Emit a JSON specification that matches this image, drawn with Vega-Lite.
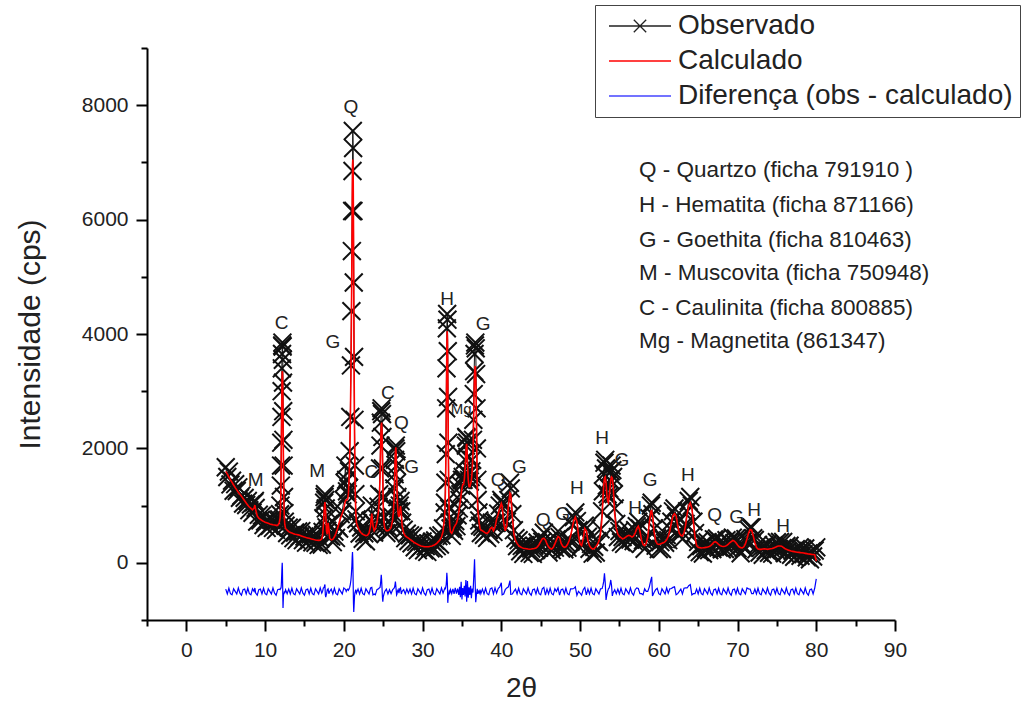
{
"$schema":"https://vega.github.io/schema/vega-lite/v6.json",
"width":748,"height":572,
"autosize":{"type":"none"},
"padding":{"left":147,"top":48,"right":129,"bottom":89},
"background":"white",
"config":{"view":{"stroke":null},
"axis":{"grid":false,"domainColor":"black","domainWidth":2,"tickColor":"black","tickWidth":2,"labelFont":"Liberation Sans","titleFont":"Liberation Sans","labelFontSize":21,"titleFontSize":28,"titleFontWeight":"normal","labelColor":"#222","titleColor":"#222","labelOverlap":false,"labelFlush":false,"format":"d"},
"legend":{"labelFont":"Liberation Sans","labelFontSize":28,"labelColor":"#222","labelLimit":0,"symbolSize":3844,"symbolStrokeWidth":1.3,"clipHeight":28,"rowPadding":7,"padding":7,"symbolOffset":6,"labelOffset":6,"strokeColor":"#444","fillColor":"white"}},
"datasets":{
"xrd":[
{"t":5.0,"o":1670,"c":1600,"d":-460},{"t":5.2,"o":1500,"c":1550,"d":-545},{"t":5.4,"o":1595,"c":1500,"d":-445},{"t":5.6,"o":1370,"c":1450,"d":-540},{"t":5.8,"o":1435,"c":1405,"d":-560},{"t":6.0,"o":1260,"c":1360,"d":-455},{"t":6.2,"o":1375,"c":1315,"d":-500},{"t":6.4,"o":1255,"c":1275,"d":-545},{"t":6.6,"o":1320,"c":1235,"d":-440},{"t":6.8,"o":1135,"c":1200,"d":-530},{"t":7.0,"o":1175,"c":1165,"d":-565},{"t":7.2,"o":1035,"c":1125,"d":-470},{"t":7.4,"o":1135,"c":1085,"d":-460},{"t":7.6,"o":1010,"c":1045,"d":-545},{"t":7.8,"o":1080,"c":1005,"d":-445},{"t":8.0,"o":920,"c":975,"d":-540},{"t":8.2,"o":1020,"c":950,"d":-560},{"t":8.4,"o":875,"c":925,"d":-455},{"t":8.6,"o":1055,"c":960,"d":-500},{"t":8.7,"o":1080,"c":1010,"d":-440},{"t":8.8,"o":960,"c":930,"d":-530},{"t":9.0,"o":720,"c":820,"d":-565},{"t":9.2,"o":840,"c":780,"d":-470},{"t":9.4,"o":740,"c":760,"d":-460},{"t":9.6,"o":825,"c":740,"d":-545},{"t":9.8,"o":660,"c":725,"d":-445},{"t":10.0,"o":720,"c":710,"d":-540},{"t":10.2,"o":610,"c":700,"d":-560},{"t":10.4,"o":740,"c":690,"d":-455},{"t":10.6,"o":645,"c":680,"d":-500},{"t":10.8,"o":747,"c":672,"d":-545},{"t":11.0,"o":610,"c":665,"d":-440},{"t":11.2,"o":730,"c":660,"d":-530},{"t":11.4,"o":575,"c":655,"d":-565},{"t":11.6,"o":750,"c":655,"d":-470},{"t":11.8,"o":760,"c":700,"d":-460},
{"t":11.9,"o":850,"c":780,"d":-470},{"t":11.95,"o":1000,"c":900,"d":-455},{"t":12.0,"o":1350,"c":1200,"d":-440},{"t":12.025,"o":1700,"c":1480,"d":-440},{"t":12.05,"o":2100,"c":1800,"d":-400},{"t":12.075,"o":2550,"c":2200,"d":-330},{"t":12.1,"o":3000,"c":2600,"d":-250},{"t":12.125,"o":3400,"c":2950,"d":-150},{"t":12.15,"o":3650,"c":3200,"d":-60},{"t":12.175,"o":3800,"c":3330,"d":0},{"t":12.2,"o":3850,"c":3350,"d":-100},{"t":12.225,"o":3780,"c":3250,"d":-350},{"t":12.25,"o":3550,"c":3000,"d":-600},{"t":12.275,"o":3150,"c":2650,"d":-790},{"t":12.3,"o":2650,"c":2200,"d":-700},{"t":12.325,"o":2150,"c":1800,"d":-600},{"t":12.35,"o":1700,"c":1450,"d":-540},{"t":12.4,"o":1150,"c":1000,"d":-540},{"t":12.45,"o":870,"c":780,"d":-500},{"t":12.5,"o":720,"c":670,"d":-530},{"t":12.6,"o":650,"c":600,"d":-470},{"t":12.8,"o":520,"c":570,"d":-540},
{"t":13.0,"o":615,"c":545,"d":-460},{"t":13.2,"o":480,"c":530,"d":-545},{"t":13.4,"o":615,"c":520,"d":-445},{"t":13.6,"o":430,"c":510,"d":-540},{"t":13.8,"o":530,"c":500,"d":-560},{"t":14.0,"o":395,"c":495,"d":-455},{"t":14.2,"o":548,"c":488,"d":-500},{"t":14.4,"o":460,"c":480,"d":-545},{"t":14.6,"o":555,"c":470,"d":-440},{"t":14.8,"o":395,"c":460,"d":-530},{"t":15.0,"o":460,"c":450,"d":-565},{"t":15.2,"o":352,"c":442,"d":-470},{"t":15.4,"o":485,"c":435,"d":-460},{"t":15.6,"o":393,"c":428,"d":-545},{"t":15.8,"o":495,"c":420,"d":-445},{"t":16.0,"o":358,"c":413,"d":-540},{"t":16.2,"o":476,"c":406,"d":-560},{"t":16.4,"o":350,"c":400,"d":-455},{"t":16.6,"o":490,"c":395,"d":-500},{"t":16.8,"o":312,"c":392,"d":-545},{"t":17.0,"o":425,"c":395,"d":-440},{"t":17.2,"o":320,"c":420,"d":-530},
{"t":17.3,"o":540,"c":480,"d":-500},{"t":17.4,"o":780,"c":650,"d":-440},{"t":17.5,"o":1050,"c":900,"d":-430},{"t":17.55,"o":1150,"c":1000,"d":-400},{"t":17.6,"o":1200,"c":1060,"d":-380},{"t":17.65,"o":1100,"c":980,"d":-560},{"t":17.7,"o":950,"c":850,"d":-600},{"t":17.8,"o":620,"c":550,"d":-545},{"t":17.9,"o":560,"c":500,"d":-470},{"t":18.0,"o":800,"c":700,"d":-455},{"t":18.1,"o":680,"c":600,"d":-540},{"t":18.2,"o":470,"c":430,"d":-500},{"t":18.4,"o":460,"c":400,"d":-460},{"t":18.6,"o":360,"c":410,"d":-545},{"t":18.8,"o":545,"c":450,"d":-445},{"t":19.0,"o":435,"c":515,"d":-540},{"t":19.2,"o":630,"c":600,"d":-560},{"t":19.4,"o":600,"c":700,"d":-455},{"t":19.6,"o":850,"c":790,"d":-500},{"t":19.8,"o":900,"c":860,"d":-545},{"t":20.0,"o":1100,"c":950,"d":-440},{"t":20.1,"o":1400,"c":1020,"d":-455},{"t":20.2,"o":1700,"c":1080,"d":-460},{"t":20.3,"o":1450,"c":1100,"d":-500},{"t":20.4,"o":1250,"c":1100,"d":-470},{"t":20.5,"o":1200,"c":1120,"d":-460},
{"t":20.58,"o":1300,"c":1200,"d":-480},{"t":20.66,"o":1600,"c":1450,"d":-460},{"t":20.74,"o":1950,"c":1800,"d":-430},{"t":20.82,"o":2550,"c":2400,"d":-380},{"t":20.9,"o":3450,"c":3300,"d":-300},{"t":20.96,"o":4400,"c":4200,"d":-200},{"t":21.02,"o":5450,"c":5300,"d":-50},{"t":21.06,"o":6150,"c":6200,"d":100},{"t":21.1,"o":6850,"c":6950,"d":190},{"t":21.14,"o":7550,"c":7050,"d":50},{"t":21.18,"o":7250,"c":6900,"d":-300},{"t":21.22,"o":6150,"c":6000,"d":-700},{"t":21.26,"o":4900,"c":4700,"d":-860},{"t":21.3,"o":3600,"c":3500,"d":-750},{"t":21.35,"o":2500,"c":2400,"d":-600},{"t":21.4,"o":1700,"c":1650,"d":-530},{"t":21.46,"o":1200,"c":1150,"d":-500},{"t":21.52,"o":900,"c":850,"d":-470},{"t":21.6,"o":760,"c":700,"d":-530},
{"t":21.8,"o":690,"c":620,"d":-460},{"t":22.0,"o":510,"c":560,"d":-545},{"t":22.2,"o":615,"c":520,"d":-445},{"t":22.4,"o":420,"c":500,"d":-540},{"t":22.6,"o":515,"c":485,"d":-560},{"t":22.8,"o":375,"c":475,"d":-455},{"t":23.0,"o":540,"c":480,"d":-500},{"t":23.2,"o":500,"c":520,"d":-545},{"t":23.4,"o":735,"c":650,"d":-440},{"t":23.55,"o":1000,"c":860,"d":-430},{"t":23.7,"o":700,"c":650,"d":-560},{"t":23.85,"o":530,"c":560,"d":-545},{"t":24.0,"o":650,"c":600,"d":-560},{"t":24.2,"o":780,"c":700,"d":-470},{"t":24.4,"o":980,"c":900,"d":-455},
{"t":24.5,"o":1200,"c":1100,"d":-440},{"t":24.6,"o":1650,"c":1500,"d":-430},{"t":24.65,"o":2050,"c":1850,"d":-380},{"t":24.7,"o":2450,"c":2200,"d":-300},{"t":24.75,"o":2650,"c":2400,"d":-210},{"t":24.8,"o":2700,"c":2450,"d":-300},{"t":24.85,"o":2600,"c":2300,"d":-450},{"t":24.9,"o":2200,"c":1900,"d":-600},{"t":24.95,"o":1650,"c":1400,"d":-680},{"t":25.0,"o":1150,"c":1000,"d":-600},{"t":25.1,"o":780,"c":700,"d":-545},{"t":25.2,"o":650,"c":600,"d":-500},{"t":25.4,"o":520,"c":560,"d":-460},{"t":25.6,"o":620,"c":560,"d":-545},{"t":25.8,"o":540,"c":580,"d":-470},{"t":26.0,"o":690,"c":620,"d":-540},{"t":26.2,"o":800,"c":750,"d":-470},{"t":26.3,"o":980,"c":900,"d":-455},
{"t":26.4,"o":1300,"c":1200,"d":-440},{"t":26.45,"o":1550,"c":1450,"d":-420},{"t":26.5,"o":1800,"c":1750,"d":-380},{"t":26.55,"o":2000,"c":1950,"d":-330},{"t":26.6,"o":2050,"c":2020,"d":-400},{"t":26.65,"o":1950,"c":1900,"d":-480},{"t":26.7,"o":1700,"c":1600,"d":-560},{"t":26.75,"o":1400,"c":1300,"d":-545},{"t":26.8,"o":1150,"c":1050,"d":-500},{"t":26.9,"o":950,"c":850,"d":-470},{"t":27.0,"o":900,"c":800,"d":-530},{"t":27.1,"o":1000,"c":900,"d":-455},{"t":27.2,"o":1080,"c":990,"d":-440},{"t":27.3,"o":900,"c":850,"d":-545},{"t":27.4,"o":700,"c":650,"d":-500},{"t":27.6,"o":580,"c":520,"d":-470},{"t":27.8,"o":430,"c":470,"d":-545},{"t":28.0,"o":510,"c":450,"d":-460},{"t":28.2,"o":380,"c":430,"d":-530},
{"t":28.4,"o":480,"c":410,"d":-460},{"t":28.6,"o":340,"c":390,"d":-545},{"t":28.8,"o":465,"c":370,"d":-445},{"t":29.0,"o":270,"c":350,"d":-540},{"t":29.2,"o":365,"c":335,"d":-560},{"t":29.4,"o":220,"c":320,"d":-455},{"t":29.6,"o":365,"c":305,"d":-500},{"t":29.8,"o":275,"c":295,"d":-545},{"t":30.0,"o":373,"c":288,"d":-440},{"t":30.2,"o":218,"c":283,"d":-530},{"t":30.4,"o":290,"c":280,"d":-565},{"t":30.6,"o":190,"c":280,"d":-470},{"t":30.8,"o":333,"c":283,"d":-460},{"t":31.0,"o":253,"c":288,"d":-545},{"t":31.2,"o":370,"c":295,"d":-445},{"t":31.4,"o":250,"c":305,"d":-540},{"t":31.6,"o":390,"c":320,"d":-560},{"t":31.8,"o":290,"c":340,"d":-455},{"t":32.0,"o":465,"c":370,"d":-500},{"t":32.2,"o":320,"c":400,"d":-545},{"t":32.4,"o":480,"c":450,"d":-440},{"t":32.6,"o":600,"c":550,"d":-530},{"t":32.8,"o":880,"c":800,"d":-455},
{"t":32.85,"o":1050,"c":950,"d":-440},{"t":32.9,"o":1400,"c":1250,"d":-450},{"t":32.95,"o":1900,"c":1700,"d":-420},{"t":33.0,"o":2700,"c":2400,"d":-380},{"t":33.04,"o":3400,"c":3100,"d":-300},{"t":33.08,"o":4100,"c":3750,"d":-175},{"t":33.12,"o":4350,"c":4050,"d":-250},{"t":33.16,"o":4250,"c":3900,"d":-400},{"t":33.2,"o":3700,"c":3300,"d":-700},{"t":33.24,"o":2900,"c":2500,"d":-620},{"t":33.28,"o":2100,"c":1800,"d":-540},{"t":33.32,"o":1450,"c":1250,"d":-540},{"t":33.38,"o":950,"c":850,"d":-500},{"t":33.45,"o":700,"c":650,"d":-530},{"t":33.55,"o":600,"c":540,"d":-470},{"t":33.7,"o":470,"c":515,"d":-540},{"t":33.85,"o":620,"c":560,"d":-455},{"t":34.0,"o":560,"c":620,"d":-545},{"t":34.15,"o":730,"c":660,"d":-440},{"t":34.3,"o":640,"c":690,"d":-540},{"t":34.45,"o":830,"c":760,"d":-450},{"t":34.6,"o":950,"c":880,"d":-560},{"t":34.7,"o":1100,"c":980,"d":-420},{"t":34.8,"o":1200,"c":1080,"d":-600},{"t":34.9,"o":1350,"c":1200,"d":-330},{"t":35.0,"o":1450,"c":1300,"d":-640},{"t":35.1,"o":1500,"c":1370,"d":-440},{"t":35.2,"o":1450,"c":1370,"d":-560},{"t":35.3,"o":1600,"c":1450,"d":-400},{"t":35.4,"o":1800,"c":1650,"d":-590},{"t":35.5,"o":2050,"c":1900,"d":-300},{"t":35.55,"o":2200,"c":2050,"d":-450},{"t":35.6,"o":2180,"c":2080,"d":-680},{"t":35.65,"o":2100,"c":1950,"d":-550},{"t":35.7,"o":1850,"c":1750,"d":-320},{"t":35.8,"o":1550,"c":1450,"d":-610},{"t":35.9,"o":1450,"c":1330,"d":-430},{"t":36.0,"o":1420,"c":1330,"d":-560},{"t":36.1,"o":1500,"c":1380,"d":-400},{"t":36.2,"o":1600,"c":1440,"d":-620},{"t":36.3,"o":1800,"c":1600,"d":-450},
{"t":36.4,"o":2150,"c":1900,"d":-520},{"t":36.45,"o":2500,"c":2200,"d":-400},{"t":36.5,"o":2950,"c":2600,"d":-250},{"t":36.55,"o":3350,"c":3000,"d":-100},{"t":36.6,"o":3650,"c":3300,"d":60},{"t":36.65,"o":3800,"c":3420,"d":-200},{"t":36.7,"o":3850,"c":3440,"d":-450},{"t":36.75,"o":3750,"c":3300,"d":-690},{"t":36.8,"o":3300,"c":2900,"d":-620},{"t":36.85,"o":2700,"c":2300,"d":-540},{"t":36.9,"o":2000,"c":1700,"d":-500},{"t":36.95,"o":1450,"c":1250,"d":-455},{"t":37.0,"o":1100,"c":950,"d":-540},{"t":37.1,"o":880,"c":800,"d":-500},{"t":37.2,"o":740,"c":680,"d":-530},{"t":37.3,"o":650,"c":600,"d":-470},{"t":37.4,"o":520,"c":570,"d":-540},
{"t":37.6,"o":630,"c":560,"d":-460},{"t":37.8,"o":490,"c":540,"d":-545},{"t":38.0,"o":615,"c":520,"d":-445},{"t":38.2,"o":435,"c":515,"d":-540},{"t":38.4,"o":570,"c":540,"d":-560},{"t":38.6,"o":500,"c":600,"d":-455},{"t":38.8,"o":700,"c":620,"d":-440},{"t":39.0,"o":540,"c":560,"d":-545},{"t":39.2,"o":705,"c":620,"d":-440},{"t":39.4,"o":700,"c":760,"d":-530},{"t":39.6,"o":860,"c":850,"d":-450},{"t":39.8,"o":1000,"c":950,"d":-420},{"t":40.0,"o":1100,"c":1040,"d":-350},{"t":40.1,"o":1050,"c":1000,"d":-560},{"t":40.3,"o":750,"c":700,"d":-545},{"t":40.5,"o":600,"c":560,"d":-470},{"t":40.7,"o":720,"c":650,"d":-440},{"t":40.9,"o":1100,"c":1000,"d":-420},{"t":41.1,"o":1400,"c":1220,"d":-310},{"t":41.2,"o":1300,"c":1200,"d":-550},{"t":41.4,"o":850,"c":800,"d":-545},{"t":41.6,"o":570,"c":500,"d":-500},{"t":41.8,"o":430,"c":390,"d":-460},{"t":42.0,"o":290,"c":340,"d":-545},{"t":42.2,"o":395,"c":300,"d":-445},{"t":42.4,"o":200,"c":280,"d":-540},{"t":42.6,"o":295,"c":265,"d":-560},{"t":42.8,"o":155,"c":255,"d":-455},{"t":43.0,"o":310,"c":250,"d":-500},{"t":43.2,"o":225,"c":245,"d":-545},{"t":43.4,"o":325,"c":240,"d":-440},{"t":43.6,"o":173,"c":238,"d":-530},{"t":43.8,"o":250,"c":240,"d":-565},{"t":44.0,"o":155,"c":245,"d":-470},{"t":44.2,"o":300,"c":250,"d":-460},{"t":44.4,"o":225,"c":260,"d":-545},{"t":44.6,"o":355,"c":280,"d":-445},{"t":44.8,"o":265,"c":320,"d":-540},{"t":45.0,"o":440,"c":370,"d":-560},{"t":45.2,"o":370,"c":420,"d":-455},{"t":45.4,"o":525,"c":430,"d":-430},{"t":45.6,"o":320,"c":400,"d":-565},{"t":45.8,"o":360,"c":330,"d":-460},{"t":46.0,"o":180,"c":280,"d":-545},{"t":46.2,"o":310,"c":250,"d":-445},{"t":46.4,"o":220,"c":240,"d":-540},{"t":46.6,"o":355,"c":270,"d":-560},{"t":46.8,"o":265,"c":330,"d":-455},{"t":47.0,"o":410,"c":400,"d":-500},{"t":47.2,"o":550,"c":460,"d":-440},{"t":47.4,"o":450,"c":440,"d":-565},{"t":47.6,"o":250,"c":340,"d":-470},{"t":47.8,"o":340,"c":290,"d":-460},{"t":48.0,"o":235,"c":270,"d":-545},{"t":48.2,"o":355,"c":280,"d":-445},{"t":48.4,"o":265,"c":320,"d":-540},{"t":48.6,"o":410,"c":380,"d":-560},{"t":48.8,"o":370,"c":470,"d":-455},{"t":49.0,"o":660,"c":600,"d":-455},{"t":49.2,"o":800,"c":740,"d":-450},{"t":49.4,"o":880,"c":800,"d":-420},{"t":49.6,"o":730,"c":720,"d":-570},{"t":49.8,"o":570,"c":480,"d":-500},{"t":50.0,"o":265,"c":330,"d":-530},{"t":50.2,"o":310,"c":300,"d":-565},{"t":50.4,"o":330,"c":420,"d":-470},{"t":50.6,"o":650,"c":600,"d":-430},{"t":50.8,"o":600,"c":560,"d":-560},{"t":51.0,"o":455,"c":380,"d":-460},{"t":51.2,"o":245,"c":300,"d":-545},{"t":51.4,"o":330,"c":260,"d":-445},{"t":51.6,"o":160,"c":240,"d":-540},{"t":51.8,"o":280,"c":250,"d":-560},{"t":52.0,"o":180,"c":280,"d":-455},{"t":52.2,"o":380,"c":320,"d":-500},{"t":52.4,"o":360,"c":380,"d":-545},{"t":52.6,"o":585,"c":500,"d":-455},{"t":52.8,"o":900,"c":800,"d":-450},{"t":52.9,"o":1250,"c":1100,"d":-400},{"t":53.0,"o":1550,"c":1350,"d":-330},{"t":53.1,"o":1750,"c":1480,"d":-185},{"t":53.2,"o":1800,"c":1500,"d":-350},{"t":53.3,"o":1650,"c":1400,"d":-650},{"t":53.4,"o":1350,"c":1200,"d":-560},{"t":53.5,"o":1200,"c":1080,"d":-500},{"t":53.6,"o":1150,"c":1050,"d":-455},{"t":53.7,"o":1300,"c":1150,"d":-440},{"t":53.8,"o":1450,"c":1300,"d":-380},{"t":53.9,"o":1600,"c":1450,"d":-300},{"t":54.0,"o":1700,"c":1500,"d":-400},{"t":54.1,"o":1620,"c":1480,"d":-580},{"t":54.2,"o":1500,"c":1350,"d":-520},{"t":54.3,"o":1200,"c":1100,"d":-500},{"t":54.4,"o":950,"c":850,"d":-470},{"t":54.6,"o":680,"c":600,"d":-540},{"t":54.8,"o":450,"c":500,"d":-460},{"t":55.0,"o":555,"c":460,"d":-545},{"t":55.2,"o":360,"c":440,"d":-445},{"t":55.4,"o":450,"c":420,"d":-540},{"t":55.6,"o":330,"c":430,"d":-560},{"t":55.8,"o":510,"c":450,"d":-455},{"t":56.0,"o":450,"c":470,"d":-500},{"t":56.2,"o":565,"c":480,"d":-545},{"t":56.4,"o":405,"c":470,"d":-440},{"t":56.6,"o":460,"c":450,"d":-530},{"t":56.8,"o":380,"c":470,"d":-565},{"t":57.0,"o":570,"c":520,"d":-470},{"t":57.2,"o":640,"c":600,"d":-440},{"t":57.4,"o":720,"c":640,"d":-450},{"t":57.6,"o":600,"c":560,"d":-540},{"t":57.8,"o":340,"c":400,"d":-540},{"t":58.0,"o":395,"c":320,"d":-560},{"t":58.2,"o":245,"c":300,"d":-455},{"t":58.4,"o":410,"c":340,"d":-500},{"t":58.6,"o":430,"c":450,"d":-500},{"t":58.8,"o":780,"c":700,"d":-420},{"t":59.0,"o":1000,"c":900,"d":-300},{"t":59.1,"o":1050,"c":910,"d":-245},{"t":59.2,"o":850,"c":820,"d":-580},{"t":59.4,"o":600,"c":550,"d":-520},{"t":59.6,"o":300,"c":380,"d":-470},{"t":59.8,"o":425,"c":330,"d":-445},{"t":60.0,"o":240,"c":320,"d":-540},{"t":60.2,"o":360,"c":330,"d":-560},{"t":60.4,"o":240,"c":340,"d":-455},{"t":60.6,"o":410,"c":350,"d":-500},{"t":60.8,"o":350,"c":370,"d":-545},{"t":61.0,"o":485,"c":400,"d":-440},{"t":61.2,"o":395,"c":460,"d":-530},{"t":61.4,"o":600,"c":560,"d":-455},{"t":61.6,"o":720,"c":700,"d":-450},{"t":61.8,"o":900,"c":820,"d":-430},{"t":62.0,"o":950,"c":860,"d":-420},{"t":62.2,"o":820,"c":820,"d":-560},{"t":62.4,"o":700,"c":650,"d":-540},{"t":62.6,"o":485,"c":520,"d":-500},{"t":62.8,"o":555,"c":480,"d":-460},{"t":63.0,"o":415,"c":470,"d":-545},{"t":63.2,"o":600,"c":520,"d":-445},{"t":63.4,"o":680,"c":650,"d":-440},{"t":63.6,"o":900,"c":850,"d":-440},{"t":63.8,"o":1080,"c":1000,"d":-400},{"t":64.0,"o":1150,"c":1050,"d":-380},{"t":64.2,"o":1000,"c":950,"d":-560},{"t":64.4,"o":720,"c":700,"d":-540},{"t":64.6,"o":520,"c":450,"d":-540},{"t":64.8,"o":240,"c":300,"d":-460},{"t":65.0,"o":365,"c":270,"d":-545},{"t":65.2,"o":185,"c":265,"d":-445},{"t":65.4,"o":290,"c":260,"d":-540},{"t":65.6,"o":162,"c":262,"d":-560},{"t":65.8,"o":325,"c":265,"d":-455},{"t":66.0,"o":250,"c":270,"d":-500},{"t":66.2,"o":360,"c":275,"d":-545},{"t":66.4,"o":220,"c":285,"d":-440},{"t":66.6,"o":310,"c":300,"d":-530},{"t":66.8,"o":240,"c":330,"d":-565},{"t":67.0,"o":410,"c":360,"d":-470},{"t":67.2,"o":400,"c":370,"d":-460},{"t":67.4,"o":425,"c":350,"d":-545},{"t":67.6,"o":265,"c":320,"d":-445},{"t":67.8,"o":370,"c":300,"d":-540},{"t":68.0,"o":235,"c":290,"d":-560},{"t":68.2,"o":355,"c":285,"d":-455},{"t":68.4,"o":240,"c":290,"d":-500},{"t":68.6,"o":395,"c":300,"d":-545},{"t":68.8,"o":255,"c":320,"d":-440},{"t":69.0,"o":360,"c":350,"d":-530},{"t":69.2,"o":280,"c":370,"d":-565},{"t":69.4,"o":440,"c":390,"d":-470},{"t":69.6,"o":345,"c":380,"d":-460},{"t":69.8,"o":425,"c":350,"d":-545},{"t":70.0,"o":255,"c":310,"d":-445},{"t":70.2,"o":350,"c":280,"d":-540},{"t":70.4,"o":165,"c":265,"d":-560},{"t":70.6,"o":320,"c":260,"d":-455},{"t":70.8,"o":260,"c":280,"d":-500},{"t":71.0,"o":415,"c":330,"d":-545},{"t":71.2,"o":355,"c":420,"d":-440},{"t":71.4,"o":580,"c":520,"d":-455},{"t":71.6,"o":620,"c":580,"d":-460},{"t":71.8,"o":620,"c":570,"d":-540},{"t":72.0,"o":430,"c":470,"d":-540},{"t":72.2,"o":400,"c":350,"d":-460},{"t":72.4,"o":235,"c":270,"d":-545},{"t":72.6,"o":315,"c":240,"d":-445},{"t":72.8,"o":180,"c":235,"d":-540},{"t":73.0,"o":265,"c":235,"d":-560},{"t":73.2,"o":140,"c":240,"d":-455},{"t":73.4,"o":305,"c":245,"d":-500},{"t":73.6,"o":220,"c":240,"d":-545},{"t":73.8,"o":320,"c":235,"d":-440},{"t":74.0,"o":175,"c":240,"d":-530},{"t":74.2,"o":255,"c":245,"d":-565},{"t":74.4,"o":160,"c":250,"d":-470},{"t":74.6,"o":310,"c":260,"d":-460},{"t":74.8,"o":235,"c":270,"d":-545},{"t":75.0,"o":360,"c":285,"d":-445},{"t":75.2,"o":240,"c":295,"d":-540},{"t":75.4,"o":365,"c":295,"d":-560},{"t":75.6,"o":240,"c":290,"d":-455},{"t":75.8,"o":365,"c":270,"d":-500},{"t":76.0,"o":170,"c":250,"d":-545},{"t":76.2,"o":295,"c":235,"d":-440},{"t":76.4,"o":205,"c":225,"d":-530},{"t":76.6,"o":300,"c":215,"d":-565},{"t":76.8,"o":140,"c":205,"d":-470},{"t":77.0,"o":210,"c":200,"d":-460},{"t":77.2,"o":105,"c":195,"d":-545},{"t":77.4,"o":240,"c":190,"d":-445},{"t":77.6,"o":150,"c":185,"d":-540},{"t":77.8,"o":257,"c":182,"d":-560},{"t":78.0,"o":123,"c":178,"d":-455},{"t":78.2,"o":245,"c":175,"d":-500},{"t":78.4,"o":150,"c":170,"d":-545},{"t":78.6,"o":250,"c":165,"d":-440},{"t":78.8,"o":95,"c":160,"d":-530},{"t":79.0,"o":165,"c":155,"d":-565},{"t":79.2,"o":62,"c":152,"d":-470},{"t":79.4,"o":198,"c":148,"d":-460},{"t":79.6,"o":110,"c":145,"d":-545},{"t":79.8,"o":215,"c":140,"d":-445},{"t":80.0,"o":270,"c":30,"d":-280}
],
"lab":[
{"lab":"M","t":8.8,"v":1440},{"lab":"C","t":12.1,"v":4200},{"lab":"M","t":16.6,"v":1600},{"lab":"G","t":18.6,"v":3860},{"lab":"Q","t":20.9,"v":7960},{"lab":"C","t":23.5,"v":1580},{"lab":"C","t":25.6,"v":2970},{"lab":"Q","t":27.3,"v":2450},{"lab":"G","t":28.6,"v":1680},{"lab":"H","t":33.1,"v":4620},{"lab":"Mg","t":34.9,"v":2690},{"lab":"G","t":37.7,"v":4170},{"lab":"Q","t":39.6,"v":1440},{"lab":"G","t":42.3,"v":1680},{"lab":"Q","t":45.3,"v":740},{"lab":"G","t":47.8,"v":850},{"lab":"H","t":49.6,"v":1300},{"lab":"H","t":52.8,"v":2190},{"lab":"G","t":55.3,"v":1790},{"lab":"H","t":57.0,"v":950},{"lab":"G","t":58.9,"v":1440},{"lab":"H","t":63.7,"v":1530},{"lab":"Q","t":67.1,"v":830},{"lab":"G","t":69.9,"v":800},{"lab":"H","t":72.1,"v":930},{"lab":"H","t":75.8,"v":640}
],
"ann":[
{"txt":"Q - Quartzo (ficha 791910 )","t":57.5,"v":6860},{"txt":"H - Hematita (ficha 871166)","t":57.5,"v":6260},{"txt":"G - Goethita (ficha 810463)","t":57.5,"v":5650},{"txt":"M - Muscovita (ficha 750948)","t":57.5,"v":5060},{"txt":"C - Caulinita (ficha 800885)","t":57.5,"v":4460},{"txt":"Mg - Magnetita (861347)","t":57.5,"v":3870}
],
"leg":[
{"s":"Observado","t":-200,"v":0},{"s":"Calculado","t":-200,"v":0},{"s":"Diferença (obs - calculado)","t":-200,"v":0}
]
},
"encoding":{
"x":{"field":"t","type":"quantitative","scale":{"domain":[-5,90],"nice":false,"zero":false},
 "axis":{"title":"2θ","values":[-5,0,5,10,15,20,25,30,35,40,45,50,55,60,65,70,75,80,85,90],"labelExpr":"datum.value % 10 === 0 ? datum.label : ''","tickSize":{"condition":{"test":"datum.value % 10 === 0","value":11},"value":6},"labelPadding":8,"titlePadding":14}}
},
"layer":[
{"data":{"name":"xrd"},"mark":{"type":"line","color":"#111","strokeWidth":1},
 "encoding":{"y":{"field":"o","type":"quantitative","scale":{"domain":[-1000,9000],"nice":false,"zero":false},
  "axis":{"title":"Intensidade (cps)","titleFontSize":30,"values":[-1000,0,1000,2000,3000,4000,5000,6000,7000,8000,9000],"labelExpr":"datum.value % 2000 === 0 ? datum.label : ''","tickSize":{"condition":{"test":"datum.value % 2000 === 0","value":11},"value":6},"labelPadding":8,"titlePadding":36}}}},
{"data":{"name":"xrd"},"mark":{"type":"point","shape":"M-1,-1L1,1M-1,1L1,-1","filled":false,"size":320,"color":"#111","strokeWidth":2,"opacity":1},
 "encoding":{"y":{"field":"o","type":"quantitative"}}},
{"data":{"name":"xrd"},"mark":{"type":"line","color":"#ff0000","strokeWidth":1.6},
 "encoding":{"y":{"field":"c","type":"quantitative"}}},
{"data":{"name":"xrd"},"mark":{"type":"line","color":"#0000ff","strokeWidth":1.2},
 "encoding":{"y":{"field":"d","type":"quantitative"}}},
{"data":{"name":"lab"},"mark":{"type":"text","font":"Liberation Sans","color":"#222","align":"center","baseline":"middle"},
 "encoding":{"y":{"field":"v","type":"quantitative"},"text":{"field":"lab"},"size":{"condition":{"test":"datum.lab === 'Mg'","value":15},"value":19}}},
{"data":{"name":"ann"},"mark":{"type":"text","font":"Liberation Sans","fontSize":22.5,"color":"#222","align":"left","baseline":"middle"},
 "encoding":{"y":{"field":"v","type":"quantitative"},"text":{"field":"txt"}}},
{"data":{"name":"leg"},"mark":{"type":"point","filled":false,"clip":true,"opacity":1},
 "encoding":{"y":{"field":"v","type":"quantitative"},
  "color":{"field":"s","type":"nominal","scale":{"domain":["Observado","Calculado","Diferença (obs - calculado)"],"range":["#222222","#ff0000","#4444ff"]},"legend":{"title":null,"orient":"none","legendX":448,"legendY":-43}},
  "shape":{"field":"s","type":"nominal","scale":{"domain":["Observado","Calculado","Diferença (obs - calculado)"],"range":["M-1,0L1,0M-0.2,-0.2L0.2,0.2M-0.2,0.2L0.2,-0.2","M-1,0L1,0","M-1,0L1,0"]},"legend":{"title":null,"orient":"none","legendX":448,"legendY":-43}}}}
]
}
